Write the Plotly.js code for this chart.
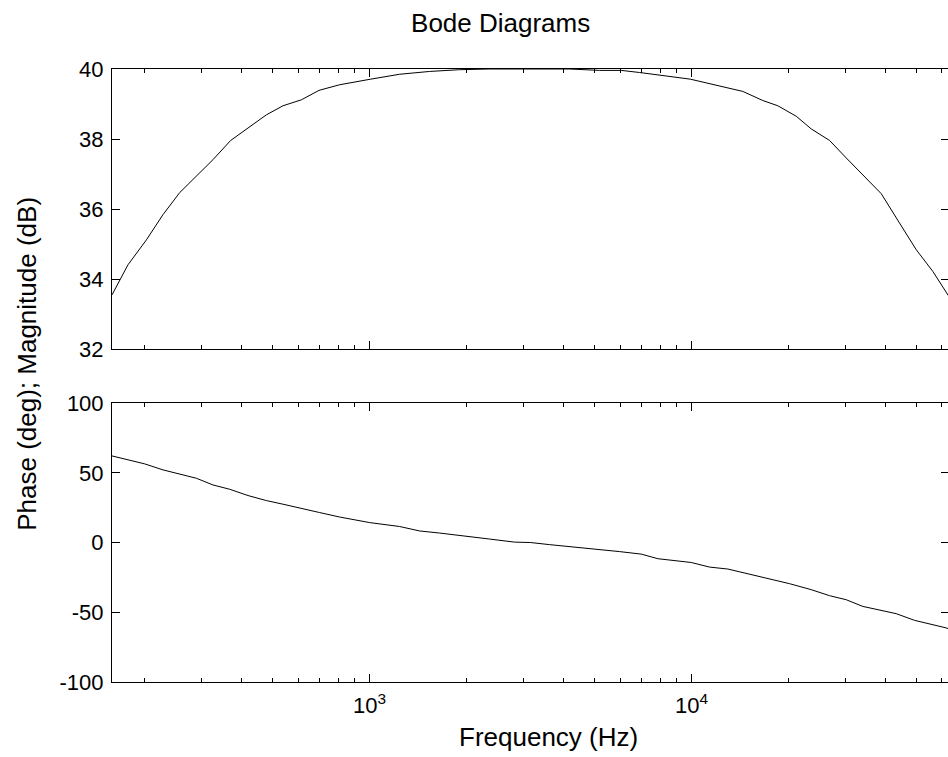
<!DOCTYPE html>
<html><head><meta charset="utf-8">
<script src="https://cdn.plot.ly/plotly-3.0.1.min.js"></script>
<style>html,body{margin:0;padding:0;overflow:hidden;background:#fff}</style>
</head><body><div id="chart" style="width:950px;height:757px"></div>
<script>
// Magnitude response (Hz, dB)
const magFreqHz = [158.5, 177.7, 202.7, 228.2, 257.2, 289.8, 326.3, 370.4, 419.3, 478.0, 538.4, 614.1, 696.5, 807.5, 1008, 1240, 1537, 1905, 2360, 3165, 4183, 5183, 6053, 6901, 9915, 14440, 16660, 18550, 21160, 23550, 26850, 30250, 34070, 38860, 44300, 49910, 56200, 63100];
const magDb = [33.55, 34.41, 35.12, 35.84, 36.47, 36.93, 37.41, 37.96, 38.31, 38.69, 38.95, 39.12, 39.39, 39.55, 39.71, 39.85, 39.93, 39.98, 40.0, 40.0, 40.0, 39.96, 39.96, 39.9, 39.71, 39.36, 39.10, 38.95, 38.65, 38.29, 37.96, 37.46, 36.98, 36.44, 35.6, 34.84, 34.22, 33.5];

// Phase response (Hz, deg)
const phaseFreqHz = [158.5, 200.3, 228.2, 289.8, 326.3, 367.8, 419.3, 478.0, 538.4, 606.6, 699.8, 807.5, 1001, 1240, 1431, 1651, 1932, 2360, 2823, 3165, 3625, 4335, 5183, 5980, 6986, 7865, 9987, 11380, 12970, 17080, 20170, 23560, 26850, 30250, 34070, 43250, 49320, 61840, 63100];
const phaseDeg = [62.1, 56.4, 52.1, 46.1, 41.3, 38.2, 33.7, 30.1, 27.5, 24.6, 21.5, 18.3, 14.3, 11.5, 8.3, 6.8, 4.7, 2.5, 0.3, 0, -1.5, -3.2, -4.7, -6.5, -8.3, -11.6, -14.3, -17.6, -19.0, -25.4, -29.5, -33.8, -38.1, -41.0, -45.8, -51.0, -55.8, -61.2, -62.0];

// Tick labels
const magTicks = [32, 34, 36, 38, 40];
const magTickText = ['32', '34', '36', '38', '40'];
const phaseTicks = [-100, -50, 0, 50, 100];
const phaseTickText = ['-100', '-50', '0', '50', '100'];
const freqTickVals = [1000, 10000];
const freqTickText = ['10<sup>3</sup>', '10<sup>4</sup>'];
const freqMinorVals = [200, 300, 400, 500, 600, 700, 800, 900, 2000, 3000, 4000, 5000, 6000, 7000, 8000, 9000, 20000, 30000, 40000, 50000, 60000];

const FONT = '"Liberation Sans", Arial, sans-serif';

const traces = [
  {x: magFreqHz, y: magDb, xaxis: 'x', yaxis: 'y', type: 'scatter', mode: 'lines',
   line: {color: '#000', width: 1}, hoverinfo: 'skip'},
  {x: phaseFreqHz, y: phaseDeg, xaxis: 'x2', yaxis: 'y2', type: 'scatter', mode: 'lines',
   line: {color: '#000', width: 1}, hoverinfo: 'skip'}
];

function xax(extra) {
  return Object.assign({
    type: 'log', range: [2.2, 4.8], showgrid: false, zeroline: false,
    showline: true, linecolor: '#000', linewidth: 1, mirror: 'ticks',
    ticks: 'inside', ticklen: 8, tickwidth: 1, tickcolor: '#000',
    tickmode: 'array', tickvals: freqTickVals, ticktext: freqTickText,
    ticklabelstandoff: 4,
    minor: {tickmode: 'array', tickvals: freqMinorVals, ticks: 'inside', ticklen: 4, tickwidth: 1, tickcolor: '#000', showgrid: false},
    tickfont: {family: FONT, size: 22, color: '#000'}
  }, extra);
}
function yax(extra) {
  return Object.assign({
    showgrid: false, zeroline: false, showline: true, linecolor: '#000', linewidth: 1,
    mirror: 'ticks', ticks: 'inside', ticklen: 8, tickwidth: 1, tickcolor: '#000',
    tickmode: 'array', ticklabelstandoff: 3,
    tickfont: {family: FONT, size: 22, color: '#000'}
  }, extra);
}

const layout = {
  width: 950, height: 757,
  margin: {l: 112, r: 1, t: 69, b: 75},
  paper_bgcolor: '#fff', plot_bgcolor: '#fff',
  showlegend: false,
  font: {family: FONT, color: '#000'},
  title: {text: 'Bode Diagrams', font: {family: FONT, size: 26, color: '#000'},
          xref: 'container', x: 0.527, xanchor: 'center', yref: 'container', y: 0.97, yanchor: 'middle'},
  xaxis: xax({anchor: 'y', domain: [0, 1], showticklabels: false}),
  xaxis2: xax({anchor: 'y2', domain: [0, 1], matches: 'x'}),
  yaxis: yax({anchor: 'x', domain: [0.543, 1], range: [32, 40], tickvals: magTicks, ticktext: magTickText}),
  yaxis2: yax({anchor: 'x2', domain: [0, 0.455], range: [-100, 100], tickvals: phaseTicks, ticktext: phaseTickText}),
  annotations: [
    {text: 'Phase (deg); Magnitude (dB)', textangle: -90, showarrow: false,
     xref: 'paper', yref: 'paper', x: -0.1016, y: 0.519, xanchor: 'center', yanchor: 'middle',
     font: {family: FONT, size: 26, color: '#000'}},
    {text: 'Frequency (Hz)', showarrow: false,
     xref: 'paper', yref: 'paper', x: (548 - 112) / 837, y: -0.09, xanchor: 'center', yanchor: 'middle',
     font: {family: FONT, size: 26, color: '#000'}}
  ]
};

Plotly.newPlot('chart', traces, layout, {displayModeBar: false, staticPlot: true});
</script>
</body></html>
